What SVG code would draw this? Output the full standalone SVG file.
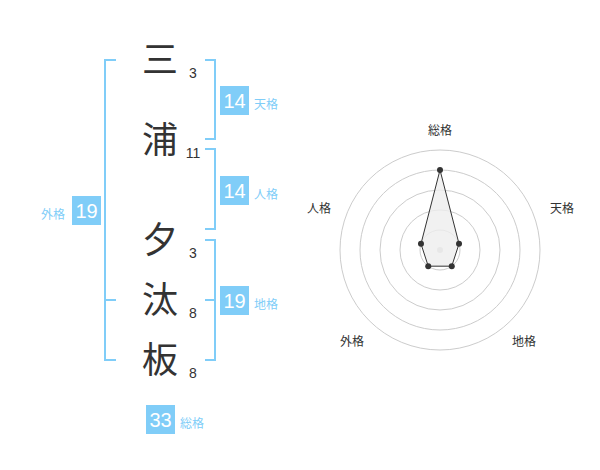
<svg xmlns="http://www.w3.org/2000/svg" width="600" height="470" viewBox="0 0 600 470">
<style>
.ch{font-family:"Noto Sans CJK JP","Noto Sans CJK SC",sans-serif;font-size:36px;fill:#333;text-anchor:middle}
.sn{font-family:"Liberation Sans",Arial,sans-serif;font-size:14px;fill:#333;text-anchor:middle}
.br{fill:none;stroke:#80cdf8;stroke-width:2}
.bx{fill:#80cdf8}
.bn{font-family:"Liberation Sans",Arial,sans-serif;font-size:20px;fill:#fff;text-anchor:middle}
.bl{font-family:"Noto Sans CJK JP","Noto Sans CJK SC",sans-serif;font-size:12px;fill:#80cdf8}
.rl{font-family:"Noto Sans CJK JP","Noto Sans CJK SC",sans-serif;font-size:12px;fill:#333;text-anchor:middle}
.ring{fill:none;stroke:#ccc;stroke-width:1}
.pt{fill:#333}
</style>
<rect width="600" height="470" fill="#fff"/>
<g id="chars">
<g id="c1"><text class="ch" x="160" y="73">三</text><text class="sn" x="193" y="78">3</text></g>
<g id="c2"><text class="ch" x="160" y="153">浦</text><text class="sn" x="193" y="158">11</text></g>
<g id="c3"><text class="ch" x="160" y="253">夕</text><text class="sn" x="193" y="258">3</text></g>
<g id="c4"><text class="ch" x="160" y="313">汰</text><text class="sn" x="193" y="318">8</text></g>
<g id="c5"><text class="ch" x="160" y="373">板</text><text class="sn" x="193" y="378">8</text></g>
</g>
<g id="connectors">
<path class="br" d="M116,60H105V360H116M105,300H116"/>
<path class="br" d="M205,60H215V139H205"/>
<path class="br" d="M205,149H215V229H205"/>
<path class="br" d="M205,240H215V360H205M205,300H215"/>
</g>
<g id="tenkaku"><rect class="bx" x="220" y="86" width="29" height="29"/><text class="bn" x="234.5" y="107.5">14</text><text class="bl" x="254" y="108.5">天格</text></g>
<g id="jinkaku"><rect class="bx" x="220" y="176" width="29" height="29"/><text class="bn" x="234.5" y="197.5">14</text><text class="bl" x="254" y="198.5">人格</text></g>
<g id="chikaku"><rect class="bx" x="220" y="286" width="29" height="29"/><text class="bn" x="234.5" y="307.5">19</text><text class="bl" x="254" y="308.5">地格</text></g>
<g id="gaikaku"><rect class="bx" x="72" y="196" width="29" height="29"/><text class="bn" x="86.5" y="217.5">19</text><text class="bl" x="41" y="218.5">外格</text></g>
<g id="soukaku"><rect class="bx" x="146" y="405" width="29" height="29"/><text class="bn" x="160.5" y="426.5">33</text><text class="bl" x="180" y="427.5">総格</text></g>
<g id="radar">
<circle class="ring" cx="440" cy="250" r="20"/>
<circle class="ring" cx="440" cy="250" r="40"/>
<circle class="ring" cx="440" cy="250" r="60"/>
<circle class="ring" cx="440" cy="250" r="80"/>
<circle class="ring" cx="440" cy="250" r="100"/>
<circle cx="440" cy="250" r="3" fill="#ccc"/>
<polygon points="440,170 459.02,243.82 451.76,266.18 428.24,266.18 420.98,243.82" fill="#eee" fill-opacity="0.8" stroke="#333" stroke-width="1"/>
<circle class="pt" cx="440" cy="170" r="3"/>
<circle class="pt" cx="459.02" cy="243.82" r="3"/>
<circle class="pt" cx="451.76" cy="266.18" r="3"/>
<circle class="pt" cx="428.24" cy="266.18" r="3"/>
<circle class="pt" cx="420.98" cy="243.82" r="3"/>
<text class="rl" x="440" y="135">総格</text>
<text class="rl" x="562" y="213">天格</text>
<text class="rl" x="319" y="213">人格</text>
<text class="rl" x="352" y="346">外格</text>
<text class="rl" x="524" y="346">地格</text>
</g>
</svg>
